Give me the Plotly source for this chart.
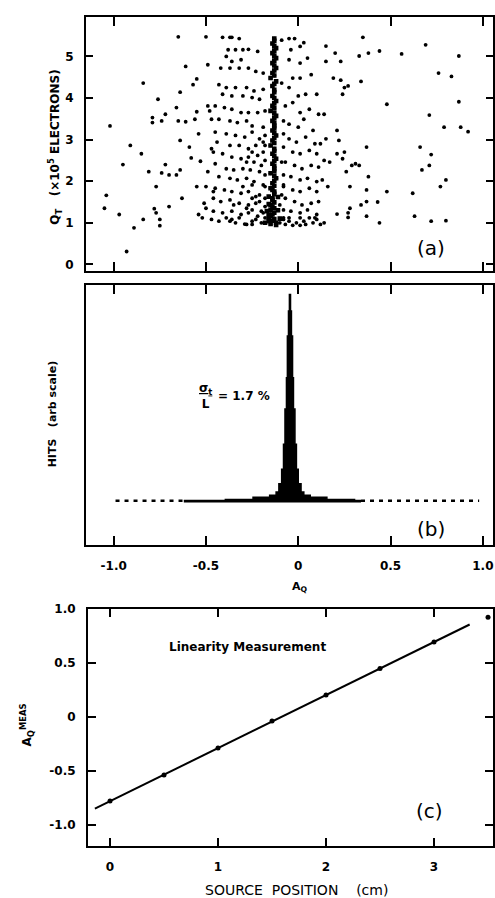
import numpy as np
import plotly.graph_objects as go

# ---------------- panel (a): Q_T vs A_Q scatter -----
a_left = [-1.02, -1.04, -1.05, -0.97, -0.93, -0.89, -0.84, -0.84, -0.85, -0.91, -0.95, -0.81,
          -0.79, -0.79, -0.76, -0.77, -0.75, -0.75, -0.78, -0.77, -0.74, -0.72, -0.74, -0.72,
          -0.70, -0.70, -0.66, -0.65, -0.65, -0.64, -0.64, -0.64, -0.63, -0.61, -0.61, -0.59,
          -0.58, -0.57, -0.56, -0.55, -0.55, -0.55, -0.54, -0.54, -0.53, -0.52, -0.51, -0.50,
          -0.49, -0.49, -0.48, -0.47, -0.47, -0.46, -0.66]
q_left = [3.33, 1.66, 1.35, 1.20, 0.31, 0.88, 1.08, 4.36, 2.66, 2.86, 2.40, 2.23,
          3.53, 3.41, 3.97, 1.87, 1.08, 0.93, 1.34, 1.24, 3.45, 3.61, 2.20, 2.40,
          2.15, 1.39, 3.77, 5.47, 3.45, 4.14, 2.98, 2.27, 1.59, 4.76, 3.43, 2.82,
          2.56, 4.32, 3.49, 3.67, 4.46, 1.87, 3.14, 1.20, 2.48, 1.12, 1.47, 5.47,
          4.80, 3.81, 3.69, 3.49, 2.78, 1.75, 2.15]

a_core = [-0.41, -0.37, -0.36, -0.32, -0.38, -0.34, -0.30, -0.27, -0.22, -0.39, -0.36, -0.31,
          -0.42, -0.37, -0.32, -0.27, -0.23, -0.19, -0.43, -0.39, -0.34, -0.28, -0.24, -0.19,
          -0.41, -0.36, -0.30, -0.25, -0.21, -0.45, -0.40, -0.36, -0.31, -0.27, -0.22, -0.18,
          -0.43, -0.37, -0.33, -0.28, -0.25, -0.19, -0.45, -0.39, -0.34, -0.29, -0.25, -0.18,
          -0.44, -0.37, -0.32, -0.27, -0.23, -0.19, -0.46, -0.41, -0.36, -0.31, -0.27, -0.22,
          -0.18, -0.45, -0.39, -0.35, -0.30, -0.26, -0.21, -0.18, -0.49, -0.43, -0.37, -0.33,
          -0.28, -0.24, -0.19, -0.50, -0.45, -0.40, -0.36, -0.31, -0.27, -0.21, -0.46, -0.42,
          -0.37, -0.32, -0.27, -0.23, -0.18, -0.50, -0.46, -0.41, -0.36, -0.31, -0.27, -0.22,
          -0.47, -0.43, -0.37, -0.34, -0.29, -0.25, -0.20, -0.28, -0.25, -0.18, -0.19, -0.32,
          -0.36, -0.23, -0.39, -0.25, -0.23, -0.28, -0.25, -0.20, -0.21, -0.25, -0.30, -0.35,
          -0.20, -0.24, -0.28, -0.19, -0.25, -0.21, -0.18, -0.18, -0.18]
q_core = [5.46, 5.46, 5.46, 5.43, 5.16, 5.16, 5.16, 5.17, 5.12, 5.00, 4.88, 4.92,
          4.72, 4.72, 4.72, 4.72, 4.64, 4.60, 4.32, 4.25, 4.25, 4.25, 4.17, 4.21,
          4.09, 4.05, 4.05, 4.01, 3.97, 3.81, 3.77, 3.73, 3.65, 3.65, 3.65, 3.69,
          3.49, 3.45, 3.41, 3.45, 3.33, 3.30, 3.18, 3.14, 3.10, 3.06, 3.18, 3.10,
          2.94, 2.86, 2.86, 2.78, 2.86, 2.94, 2.70, 2.66, 2.58, 2.54, 2.58, 2.62,
          2.50, 2.42, 2.30, 2.27, 2.30, 2.27, 2.23, 2.15, 2.23, 2.11, 2.07, 2.03,
          2.07, 1.99, 1.91, 1.87, 1.83, 1.79, 1.75, 1.71, 1.75, 1.67, 1.59, 1.51,
          1.55, 1.47, 1.43, 1.47, 1.39, 1.35, 1.28, 1.24, 1.28, 1.20, 1.24, 1.16,
          1.08, 1.04, 1.04, 1.00, 0.97, 0.96, 1.00, 0.96, 1.04, 1.12, 1.24, 1.12,
          1.08, 1.08, 1.12, 1.91, 1.63, 1.35, 1.31, 1.28, 1.51, 1.59, 1.87, 1.43,
          2.38, 2.46, 2.46, 2.70, 2.70, 3.02, 2.86, 1.87, 1.59]

a_column = [-0.13, -0.14, -0.12, -0.14, -0.12, -0.14, -0.12, -0.14, -0.15, -0.12, -0.14, -0.13,
            -0.14, -0.12, -0.14, -0.15, -0.12, -0.14, -0.13, -0.14, -0.12, -0.14, -0.15, -0.13,
            -0.14, -0.12, -0.14, -0.13, -0.15, -0.12, -0.14, -0.15, -0.13, -0.16, -0.14, -0.15,
            -0.13, -0.17, -0.14, -0.16, -0.14, -0.18, -0.15, -0.12,
            -0.13, -0.13, -0.13, -0.13, -0.13, -0.13, -0.13, -0.13, -0.13, -0.13, -0.13, -0.13,
            -0.13, -0.13, -0.13, -0.13, -0.13, -0.13, -0.13, -0.13, -0.13, -0.13, -0.13, -0.13,
            -0.13, -0.13, -0.13, -0.13, -0.14, -0.13, -0.14, -0.13, -0.14, -0.15, -0.13, -0.15,
            -0.13, -0.16, -0.11, -0.16, -0.10, -0.11, -0.16, -0.12]
q_column = [5.43, 5.31, 5.20, 5.08, 4.96, 4.84, 4.72, 4.60, 4.48, 4.40, 4.29, 4.14,
            4.05, 3.93, 3.81, 3.69, 3.57, 3.45, 3.33, 3.22, 3.10, 2.98, 2.86, 2.78,
            2.66, 2.54, 2.42, 2.30, 2.19, 2.07, 1.95, 1.83, 1.75, 1.63, 1.55, 1.43,
            1.35, 1.28, 1.20, 1.12, 1.05, 1.00, 0.97, 1.00,
            5.37, 5.25, 5.14, 5.02, 4.90, 4.78, 4.66, 4.54, 4.34, 4.20, 4.00, 3.87,
            3.75, 3.63, 3.51, 3.39, 3.27, 3.16, 3.04, 2.92, 2.72, 2.60, 2.48, 2.36,
            2.24, 2.13, 2.01, 1.89, 1.79, 1.69, 1.59, 1.49, 1.39, 1.31, 1.24, 1.16,
            1.09, 1.04, 1.30, 1.45, 1.10, 1.62, 1.20, 0.95]

a_right = [-0.09, -0.05, -0.02, -0.04, 0.01, 0.03, -0.05, 0.01, 0.05, -0.03, 0.01, 0.07,
           -0.09, -0.05, 0.00, 0.04, 0.10, -0.07, -0.03, 0.01, 0.06, 0.11, 0.14, -0.08,
           -0.05, 0.00, 0.03, 0.08, -0.08, -0.05, -0.01, 0.04, 0.09, 0.12, 0.15, -0.08,
           -0.03, 0.01, 0.06, 0.10, 0.14, -0.07, -0.02, 0.02, 0.07, 0.11, 0.17, -0.08,
           -0.04, 0.01, 0.05, 0.10, 0.13, -0.08, -0.03, 0.01, 0.06, 0.10, 0.16, -0.07,
           -0.02, 0.02, 0.07, 0.11, -0.08, -0.04, 0.01, 0.05, 0.10, -0.08, -0.05, -0.01,
           0.03, 0.08, 0.12, 0.14, -0.08, -0.05, 0.01, 0.06, 0.10, -0.10, -0.07, -0.03,
           0.01, 0.09, 0.04, -0.10, -0.09, -0.09, -0.08]
q_right = [5.39, 5.43, 5.43, 5.16, 5.24, 5.33, 4.92, 4.84, 4.96, 4.48, 4.48, 4.56,
           4.36, 4.25, 4.05, 4.09, 4.09, 3.81, 3.89, 3.65, 3.73, 3.61, 3.61, 3.45,
           3.37, 3.30, 3.49, 3.22, 3.14, 3.02, 2.94, 3.06, 2.90, 2.90, 3.02, 2.82,
           2.70, 2.66, 2.74, 2.66, 2.50, 2.46, 2.38, 2.30, 2.38, 2.34, 2.46, 2.15,
           2.11, 2.03, 2.07, 1.99, 2.03, 1.87, 1.79, 1.75, 1.83, 1.75, 1.87, 1.59,
           1.51, 1.43, 1.47, 1.51, 1.31, 1.28, 1.24, 1.31, 1.20, 1.08, 1.04, 1.00,
           1.04, 1.00, 0.96, 1.00, 1.12, 1.12, 1.12, 1.12, 1.08, 1.00, 0.96, 0.94,
           0.94, 1.12, 0.96, 1.43, 1.67, 2.46, 1.91]

a_far = [0.15, 0.15, 0.20, 0.23, 0.19, 0.23, 0.25, 0.27, 0.24, 0.33, 0.35, 0.38,
         0.44, 0.34, 0.33, 0.37, 0.29, 0.26, 0.28, 0.31, 0.21, 0.22, 0.25, 0.21,
         0.38, 0.37, 0.34, 0.37, 0.43, 0.28, 0.27, 0.27, 0.21, 0.37, 0.44, 0.48,
         0.48, 0.56, 0.62, 0.63, 0.66, 0.67, 0.69, 0.71, 0.71, 0.72, 0.72, 0.76,
         0.77, 0.79, 0.80, 0.80, 0.83, 0.87, 0.87, 0.88, 0.92, 0.24]
q_far = [5.25, 4.88, 5.08, 4.88, 4.48, 4.43, 4.25, 4.29, 4.09, 5.01, 5.46, 5.08,
         5.13, 4.40, 2.38, 2.82, 2.38, 2.23, 1.87, 2.42, 3.22, 2.98, 2.70, 2.66,
         2.11, 1.79, 1.43, 1.51, 1.50, 1.35, 1.24, 1.13, 1.21, 1.16, 1.00, 1.75,
         3.85, 5.06, 1.71, 1.16, 2.82, 2.27, 5.28, 3.59, 2.38, 2.64, 1.04, 4.60,
         1.87, 3.30, 1.05, 2.03, 4.52, 5.01, 3.91, 3.30, 3.19, 2.54]

# ---------------- panel (b): histogram of hits (arb. scale) ----------------------
hist_edges = [-0.62, -0.395, -0.245, -0.155, -0.12, -0.105, -0.09, -0.08, -0.072, -0.064,
              -0.059, -0.053, -0.048, -0.042, -0.037, -0.031, -0.026, -0.018, -0.010, 0.0,
              0.015, 0.030, 0.065, 0.155, 0.305, 0.34]
hist_counts = [1.0, 1.5, 2.5, 3.5, 5, 9, 16, 28, 45, 60, 80, 92, 100, 92, 80, 60, 45, 28,
               16, 9, 5, 3.5, 2.5, 1.5, 1.0]
tail_x = [-0.99, -0.62, None, 0.34, 0.98]
tail_y = [0.8, 0.8, None, 0.8, 0.8]

# ---------------- panel (c): linearity measurement ------------------------------
source_pos = [0, 0.5, 1.0, 1.5, 2.0, 2.5, 3.0, 3.5]
a_meas = [-0.78, -0.54, -0.29, -0.04, 0.20, 0.445, 0.69, 0.92]
fit_range = [-0.14, 3.33]

xticks_a = [-1, -0.5, 0, 0.5, 1]
xticklabels_a = ["-1.0", "-0.5", "0", "0.5", "1.0"]
yticks_a = [0, 1, 2, 3, 4, 5]
xticks_c = [0, 1, 2, 3]
yticks_c = [-1, -0.5, 0, 0.5, 1]
yticklabels_c = ["-1.0", "-0.5", "0", "0.5", "1.0"]

W, H = 495, 898
ML, MR = 86, 2
PW = W - ML - MR


def px(x):
    return (x - ML) / PW


def py(y):
    return 1 - y / H


fig = go.Figure()

mk = dict(color="black", size=3.8, line=dict(width=0))
for ax_, qy in [(a_left, q_left), (a_core, q_core), (a_column, q_column),
                (a_right, q_right), (a_far, q_far)]:
    fig.add_trace(go.Scatter(x=ax_, y=qy, mode="markers", marker=mk,
                             xaxis="x", yaxis="y", showlegend=False))
# column drawn thicker
fig.add_trace(go.Scatter(x=a_column, y=q_column, mode="markers",
                         marker=dict(color="black", size=4.6, symbol="square"),
                         xaxis="x", yaxis="y", showlegend=False))

# histogram (b)
hx = list(hist_edges)
hy = list(hist_counts) + [hist_counts[-1]]
fig.add_trace(go.Scatter(x=hx, y=hy, mode="lines", line=dict(color="black", width=1.5, shape="hv"),
                         fill="tozeroy", fillcolor="black", xaxis="x2", yaxis="y2", showlegend=False))
fig.add_trace(go.Scatter(x=tail_x, y=tail_y, mode="lines",
                         line=dict(color="black", width=2.5, dash="4px,5px"),
                         xaxis="x2", yaxis="y2", showlegend=False))

# linearity (c)
coef = np.polyfit(source_pos[:7], a_meas[:7], 1)
fx = np.array(fit_range)
fig.add_trace(go.Scatter(x=fx, y=np.polyval(coef, fx), mode="lines",
                         line=dict(color="black", width=2), xaxis="x3", yaxis="y3", showlegend=False))
fig.add_trace(go.Scatter(x=source_pos, y=a_meas, mode="markers",
                         marker=dict(color="black", size=5), cliponaxis=False,
                         xaxis="x3", yaxis="y3", showlegend=False))

tickfont = dict(family="DejaVu Sans", size=12, color="black", weight="bold")
common = dict(showline=True, linewidth=2, linecolor="black", mirror="ticks", ticks="inside",
              tickwidth=2, tickcolor="black", showgrid=False, zeroline=False, tickfont=tickfont)

fig.update_layout(
    width=W, height=H, margin=dict(l=ML, r=MR, t=0, b=0),
    paper_bgcolor="white", plot_bgcolor="white",
    xaxis=dict(domain=[0, 1], anchor="y", range=[-1.15, 1.055], tickvals=xticks_a,
               showticklabels=False, ticklen=9, **common),
    yaxis=dict(domain=[py(266), py(10)], anchor="x", range=[-0.15, 5.95], tickvals=yticks_a,
               ticklen=7, ticklabelstandoff=8, **common),
    xaxis2=dict(domain=[0, 1], anchor="y2", range=[-1.15, 1.055], tickvals=xticks_a,
                ticktext=xticklabels_a, ticklen=9, ticklabelstandoff=8, **common),
    yaxis2=dict(domain=[py(543), py(281)], anchor="x2", range=[-20.5, 104.3],
                showline=True, linewidth=2, linecolor="black", mirror=True, ticks="",
                showticklabels=False, showgrid=False, zeroline=False),
    xaxis3=dict(domain=[px(88), 1], anchor="y3", range=[-0.204, 3.546], tickvals=xticks_c,
                ticklen=8, ticklabelstandoff=8, **common),
    yaxis3=dict(domain=[py(847), py(607)], anchor="x3", range=[-1.2, 1.0], tickvals=yticks_c,
                ticktext=yticklabels_c, ticklen=8, ticklabelstandoff=8, **common),
)

ann = []


def add(text, x, y, size=12, angle=0, weight="normal", xanchor="center", family="DejaVu Sans"):
    ann.append(dict(text=text, x=px(x), y=py(y), xref="paper", yref="paper", showarrow=False,
                    textangle=angle, xanchor=xanchor, yanchor="middle",
                    font=dict(family=family, size=size, color="black", weight=weight)))


add("Q<sub>T</sub>   (×10<sup>5</sup> ELECTRONS)", 55, 142, size=12, angle=-90, weight="bold")
add("HITS   (arb scale)", 52, 411, size=11, angle=-90, weight="bold")
add("A<sub>Q</sub>", 300, 585, size=11, weight="bold")
add("A<sub>Q</sub><sup>MEAS</sup>", 27, 725, size=12, angle=-90, weight="bold")
add("SOURCE  POSITION    (cm)", 296, 891, size=14)
add("Linearity Measurement", 247, 646, size=12, weight="bold")
add("(a)", 431, 243, size=20)
add("(b)", 431, 527, size=20)
add("(c)", 429, 811, size=20)
add("<u>σ<sub>t</sub></u><br>L", 205, 393, size=12, weight="bold")
add("= 1.7 %", 244, 392, size=12, weight="bold")

fig.update_layout(annotations=ann)
fig.write_html("out.html")
